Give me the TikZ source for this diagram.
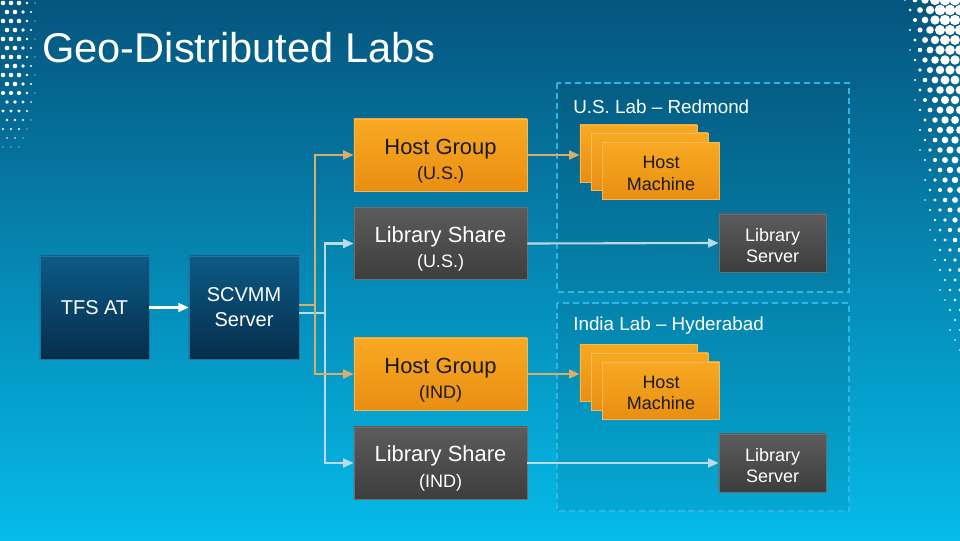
\documentclass[tikz,border=0pt]{standalone}
\usepackage{fontspec}
\setmainfont{Liberation Sans}
\usetikzlibrary{arrows.meta}

\definecolor{bgtop}{HTML}{05557E}
\definecolor{bgmid}{HTML}{0686B6}
\definecolor{bgbot}{HTML}{05BBE9}
\definecolor{orangetop}{HTML}{F8A923}
\definecolor{orangebot}{HTML}{E98E12}
\definecolor{orangeedge}{HTML}{F5BA55}
\definecolor{graytop}{HTML}{5C5C5C}
\definecolor{graybot}{HTML}{3D3D3D}
\definecolor{grayedge}{HTML}{6E6E6E}
\definecolor{navytop}{HTML}{0C5B87}
\definecolor{navybot}{HTML}{062D4A}
\definecolor{navyedge}{HTML}{2A7099}
\definecolor{labedge}{HTML}{2DB7E8}
\definecolor{hostline}{HTML}{D7AE6C}
\definecolor{shareline}{HTML}{BBD9E6}

% push the text of a box down a little
\newcommand{\boxstrut}[1]{\rule{0pt}{#1}}

\tikzset{
  srvbox/.style={draw=navyedge, line width=0.4pt, top color=navytop, bottom color=navybot,
    text=white, align=center, inner sep=0pt, minimum height=2.575cm,
    font=\fontsize{14.2}{17.8}\selectfont},
  groupbox/.style={draw=orangeedge, line width=0.5pt, top color=orangetop, bottom color=orangebot,
    text=black!90, align=center, inner sep=0pt, minimum width=4.325cm, minimum height=1.8cm,
    font=\fontsize{15.6}{17.8}\selectfont},
  sharebox/.style={groupbox, draw=grayedge, top color=graytop, bottom color=graybot, text=white},
  hostbox/.style={draw=orangeedge, line width=0.5pt, top color=orangetop, bottom color=orangebot,
    text=black!90, align=center, inner sep=0pt, minimum width=2.925cm, minimum height=1.425cm,
    font=\fontsize{12.8}{15.6}\selectfont},
  serverbox/.style={draw=grayedge, line width=0.5pt, top color=graytop, bottom color=graybot,
    text=white, align=center, inner sep=0pt, minimum width=2.675cm, minimum height=1.45cm,
    font=\fontsize{12.8}{15.2}\selectfont},
  labbox/.style={draw=labedge, line width=1.4pt, dash pattern=on 4.3pt off 2.8pt, fill=black, fill opacity=0.07},
  lablabel/.style={text=white, anchor=west, inner sep=0pt, font=\fontsize{13.4}{16}\selectfont},
  hostline/.style={draw=hostline, line width=1.5pt, -{Triangle[length=0.26cm,width=0.22cm]}},
  shareline/.style={draw=shareline, line width=1.5pt, -{Triangle[length=0.26cm,width=0.22cm]}},
}

\begin{document}
\begin{tikzpicture}[x=0.025cm,y=-0.025cm]

% Background
\useasboundingbox (0,0) rectangle (960,540);
\shade[top color=bgtop, middle color=bgmid, bottom color=bgbot] (0,0) rectangle (960,540);

% Halftone dots, right edge
\foreach \gy in {0,...,42} {
  \foreach \gx in {0,...,8} {
    \pgfmathsetmacro\dx{885+\gx*10+mod(\gy,2)*5}
    \pgfmathsetmacro\dy{\gy*10}
    \pgfmathsetmacro\dr{max(0,min(1,(\dx-898-\dy*0.08)/40))*5.5*max(0,1-\dy/430)}
    \ifdim\dr pt>0.8pt \fill[white] (\dx,\dy) circle[radius=\dr]; \fi
  }
}

% Halftone dots, top left
\foreach \gy in {0,...,17} {
  \foreach \gx in {0,...,4} {
    \pgfmathsetmacro\dx{3+\gx*8+mod(\gy,2)*4}
    \pgfmathsetmacro\dy{3+\gy*9}
    \pgfmathsetmacro\dr{2.3*max(0,min(1,(40-\dx)/20))*max(0,min(1,(165-\dy)/80))}
    \ifdim\dr pt>0.5pt \fill[white] (\dx,\dy) circle[radius=\dr]; \fi
  }
}

% Title
\node[anchor=base west, inner sep=0pt, text=white, font=\fontsize{29.6}{34}\selectfont] (title) at (42,62) {Geo-Distributed Labs};

% Lab areas
\draw[labbox] (557,83) rectangle (849,292);
\draw[labbox] (557,303) rectangle (849,511);
\node[lablabel] (uslab) at (573,107) {U.S. Lab -- Redmond};
\node[lablabel] (inlab) at (573,326) {India Lab -- Hyderabad};

% Servers
\node[srvbox, minimum width=2.725cm] (tfs) at (94.5,307.5) {TFS AT};
\node[srvbox, minimum width=2.75cm] (scvmm) at (244,307.5) {SCVMM\\Server};

% Host groups and library shares
\node[groupbox] (hgus) at (440.5,155) {\boxstrut{20pt}Host Group\\{\fontsize{12.8}{17.8}\selectfont(U.S.)}};
\node[sharebox] (lsus) at (440.5,243.5) {\boxstrut{19pt}Library Share\\{\fontsize{12.8}{17.8}\selectfont(U.S.)}};
\node[groupbox] (hgin) at (440.5,374) {\boxstrut{20pt}Host Group\\{\fontsize{12.8}{17.8}\selectfont(IND)}};
\node[sharebox] (lsin) at (440.5,463) {\boxstrut{19pt}Library Share\\{\fontsize{12.8}{17.8}\selectfont(IND)}};

% Host machine stacks
\node[hostbox] (hmus1) at (638.5,153.5) {};
\node[hostbox] (hmus2) at (649.5,161.5) {};
\node[hostbox] (hmus3) at (661,171) {\boxstrut{12.2pt}Host\\Machine};
\node[hostbox] (hmin1) at (638.5,373) {};
\node[hostbox] (hmin2) at (649.5,381.5) {};
\node[hostbox] (hmin3) at (661,390.5) {\boxstrut{12.2pt}Host\\Machine};

% Library servers
\node[serverbox] (lsrvus) at (772.5,243) {\boxstrut{13pt}Library\\Server};
\node[serverbox] (lsrvin) at (772.5,463) {\boxstrut{13pt}Library\\Server};

% Connectors
\draw[draw=white, line width=1.5pt, -{Triangle[length=0.26cm,width=0.22cm]}] (tfs) -- (scvmm);

\coordinate (jshare) at (325,313);
\draw[shareline] (scvmm.east |- jshare) -- (jshare) |- (lsus.west);
\draw[shareline] (jshare) |- (lsin.west);

\coordinate (jhost) at (315,305);
\draw[hostline] (scvmm.east |- jhost) -- (jhost) |- (hgus.west);
\draw[hostline] (jhost) |- (hgin.west);

\draw[hostline] (hgus.east) -- (hgus.east -| hmus1.west);
\draw[hostline] (hgin.east) -- (hgin.east -| hmin1.west);
\draw[shareline] (lsus.east) -- (lsrvus.west);
\draw[shareline] (lsin.east) -- (lsrvin.west);

\end{tikzpicture}
\end{document}
